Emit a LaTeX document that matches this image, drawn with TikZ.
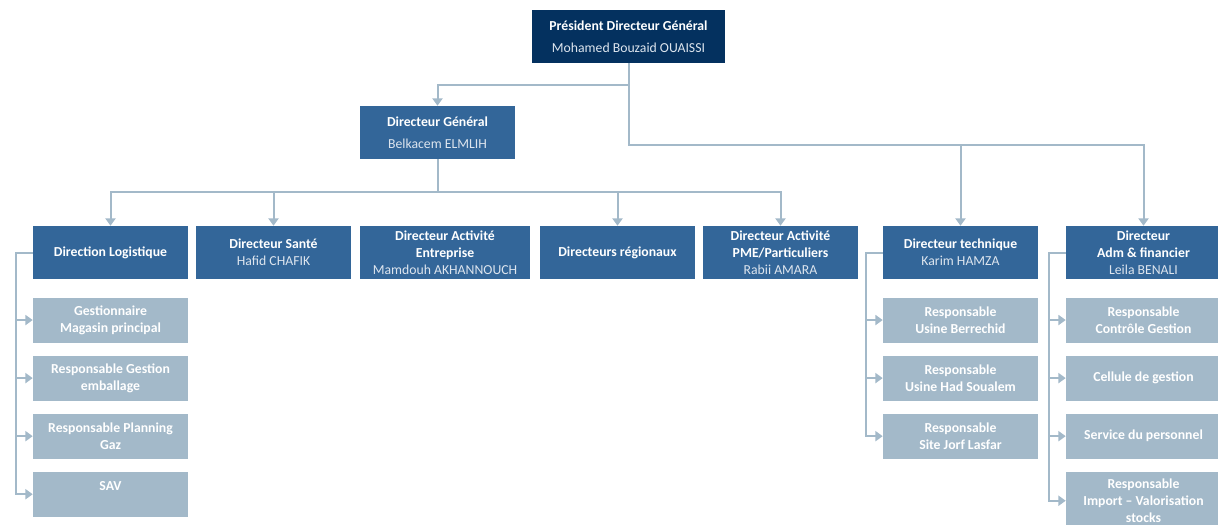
\documentclass[tikz,border=0pt]{standalone}
\usepackage{fontspec}
\setmainfont{Carlito}
\usetikzlibrary{arrows.meta,positioning}
\definecolor{onavy}{HTML}{04315F}
\definecolor{oblue}{HTML}{336699}
\definecolor{ogrey}{HTML}{A3B9C9}
\definecolor{oname}{HTML}{DDE5EE}
\newcommand{\who}[1]{{\mdseries\color{oname}#1}}

\begin{document}
\begin{tikzpicture}[x=0.75pt,y=-0.75pt,node distance=9.4pt,every node/.style={font=\fontsize{10.3}{12.6}\selectfont\bfseries,align=center,text=white,inner sep=1pt},dir/.style={fill=oblue,minimum width=116.25pt,minimum height=39.75pt},sub/.style={fill=ogrey,minimum width=116.25pt,minimum height=33.75pt},arr/.style={-{Triangle[length=5.5pt,width=7.5pt]},ogrey,line width=1.5pt}]
\useasboundingbox (0,0) rectangle (1218,525);
\node[dir,fill=onavy,minimum width=144.75pt] (pdg) at (628.5,36.5) {Président Directeur Général\\[4pt]\who{Mohamed Bouzaid OUAISSI}};
\node[dir] (dg) at (437.5,132.5) {Directeur Général\\[4pt]\who{Belkacem ELMLIH}};
\node[dir] (log) at (110.5,252.5) {Direction Logistique};
\node[dir] (san) at (273.5,252.5) {Directeur Santé\\\who{Hafid CHAFIK}};
\node[dir,minimum width=127.5pt] (ent) at (445,252.5) {Directeur Activité\\Entreprise\\\who{Mamdouh AKHANNOUCH}};
\node[dir] (reg) at (617.5,252.5) {Directeurs régionaux};
\node[dir] (pme) at (780.5,252.5) {Directeur Activité\\PME/Particuliers\\\who{Rabii AMARA}};
\node[dir] (tec) at (960.5,252.5) {Directeur technique\\\who{Karim HAMZA}};
\node[dir] (adm) at (1143.5,252.5) {Directeur\\Adm \& financier\\\who{Leila BENALI}};
\node[sub,below=13.5pt of log] (l1) {Gestionnaire\\Magasin principal};
\node[sub,below=of l1] (l2) {Responsable Gestion\\emballage};
\node[sub,below=of l2] (l3) {Responsable Planning\\Gaz};
\node[sub,below=of l3] (l4) {SAV\\~};
\node[sub,below=13.5pt of tec] (t1) {Responsable\\Usine Berrechid};
\node[sub,below=of t1] (t2) {Responsable\\Usine Had Soualem};
\node[sub,below=of t2] (t3) {Responsable\\Site Jorf Lasfar};
\node[sub,below=13.5pt of adm] (a1) {Responsable\\Contrôle Gestion};
\node[sub,below=of a1] (a2) {Cellule de gestion};
\node[sub,below=of a2] (a3) {Service du personnel};
\node[sub,below=of a3,minimum height=43.5pt] (a4) {Responsable\\Import -- Valorisation\\stocks};
\coordinate (j1) at (0,85);
\coordinate (j2) at (0,145);
\coordinate (j3) at (0,192);
\draw[arr] (pdg.south) |- (dg.north |- j1) -- (dg.north);
\draw[arr] (pdg.south) |- (tec.north |- j2) -- (tec.north);
\draw[arr] (tec.north |- j2) -| (adm.north);
\draw[arr] (dg.south) |- (log.north |- j3) -- (log.north);
\draw[arr] (dg.south) |- (pme.north |- j3) -- (pme.north);
\foreach \n in {san,reg} \draw[arr] (\n.north |- j3) -- (\n.north);
\foreach \d/\s in {log/l1,log/l2,log/l3,log/l4,tec/t1,tec/t2,tec/t3,adm/a1,adm/a2,adm/a3,adm/a4} \draw[arr] (\d.west) -- ++(-12.75pt,0) |- (\s.west);
\end{tikzpicture}
\end{document}
